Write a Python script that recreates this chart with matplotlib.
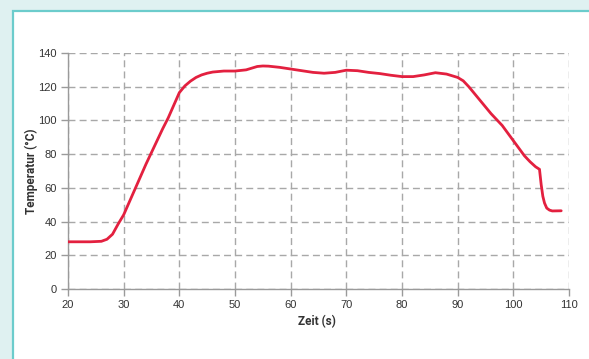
import numpy as np
import matplotlib.pyplot as plt
from matplotlib.patches import Rectangle

# Temperaturverlauf
zeit = [20, 22, 24, 26, 27, 28, 29, 30, 31, 32, 33, 34, 35, 36, 37, 38, 39, 40,
        41, 42, 43, 44, 45, 46, 48, 50, 52, 54, 55, 56, 58, 60, 62, 64, 66, 68,
        70, 72, 74, 76, 78, 80, 82, 84, 86, 88, 90, 91, 92, 93, 94, 95, 96, 97,
        98, 99, 100, 101, 102, 103, 104, 104.7, 105, 105.3, 105.6, 106, 106.5,
        107, 108.6]
temp = [28, 28, 28, 28.3, 29.5, 32.5, 38.5, 44, 51.5, 59, 66.5, 74, 81, 88, 95,
        101.5, 109, 116.5, 120.5, 123.3, 125.5, 127, 128, 128.7, 129.3, 129.3,
        130, 132, 132.3, 132.2, 131.5, 130.5, 129.5, 128.5, 128, 128.5, 129.8,
        129.5, 128.5, 127.8, 126.8, 126, 126, 127, 128.3, 127.5, 125.5, 123.5,
        120, 116, 112, 108, 104, 100.5, 97, 92.5, 88, 83.5, 79, 75.5, 72.5, 71,
        62, 55, 51, 48, 46.8, 46.3, 46.4]

xticks = np.arange(20, 111, 10)
yticks = np.arange(0, 141, 20)

fig = plt.figure(figsize=(5.89, 3.59), dpi=100)
fig.patch.set_facecolor('#dff1f1')

# weisses Panel mit tuerkisem Rand
panel = Rectangle((13 / 589, -0.05), 1.0, 1 - 10.5 / 359 + 0.05,
                  transform=fig.transFigure, facecolor='white',
                  edgecolor='#6ccccc', linewidth=1.6, zorder=-1)
fig.patches.append(panel)

ax = fig.add_axes([68 / 589, 1 - 289 / 359, (569 - 68) / 589, (289 - 53) / 359])
ax.set_facecolor('none')
ax.set_zorder(2)

ax.plot(zeit, temp, color='#e3203f', lw=2.0, solid_capstyle='round',
        solid_joinstyle='round', zorder=3)

ax.set_xlim(20, 110)
ax.set_ylim(0, 140)
ax.set_xticks(xticks)
ax.set_yticks(yticks)

ax.grid(True, color='#a8a8a8', ls=(0, (5, 3)), lw=1.0)
for s in ['top', 'right']:
    ax.spines[s].set_visible(False)
for s in ['left', 'bottom']:
    ax.spines[s].set_color('#9a9a9a')
    ax.spines[s].set_linewidth(1.0)
ax.tick_params(direction='out', length=5, width=1.0, color='#9a9a9a',
               labelsize=8, labelcolor='#333333', pad=3)
for lab in ax.get_xticklabels() + ax.get_yticklabels():
    lab.set_family('Liberation Sans')

ax.set_xlabel('Zeit (s)', fontsize=8.5, fontweight='bold', family='Roboto',
              color='#333333')
ax.set_ylabel('Temperatur (°C)', fontsize=8.5, fontweight='bold', family='Roboto',
              color='#333333')
ax.xaxis.set_label_coords(0.496, -0.112)
ax.yaxis.set_label_coords(-0.059, 0.5)

fig.savefig('out.png', dpi=100)
